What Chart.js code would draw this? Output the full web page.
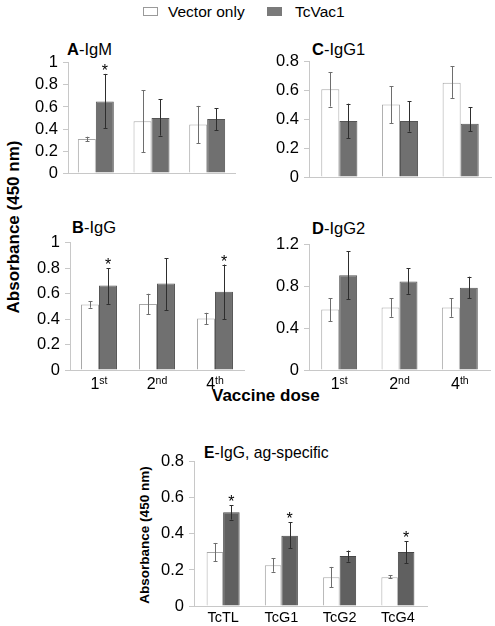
<!DOCTYPE html>
<html>
<head>
<meta charset="utf-8">
<script src="https://cdn.jsdelivr.net/npm/chart.js@4.4.0/dist/chart.umd.min.js"></script>
<style>
  body { margin: 0; background: #fff; overflow: hidden; }
  #page { position: relative; width: 495px; height: 626px; font-family: "Liberation Sans", Arial, sans-serif; color: #000; }
  #page canvas { position: absolute; }
  .txt { position: absolute; line-height: 1; white-space: nowrap; }
  .rot { position: absolute; line-height: 1; white-space: nowrap; font-weight: bold; transform: translate(-50%, -50%) rotate(-90deg); }
  .box { position: absolute; box-sizing: border-box; }
</style>
</head>
<body>
<div id="page">
  <div class="box" style="left:143px;top:7px;width:15px;height:9px;border:1px solid #9a9a9a;background:#fff"></div>
  <div class="txt" id="legVec" style="left:168px;font-size:15.5px">Vector only</div>
  <div class="box" style="left:267px;top:7px;width:15px;height:9px;background:#7a7a7a"></div>
  <div class="txt" id="legVac" style="left:295px;font-size:15.5px">TcVac1</div>

  <div class="txt" id="tA" style="left:67px;font-size:16.5px"><b>A</b>-IgM</div>
  <div class="txt" id="tB" style="left:72px;font-size:16.5px"><b>B</b>-IgG</div>
  <div class="txt" id="tC" style="left:312px;font-size:16.5px"><b>C</b>-IgG1</div>
  <div class="txt" id="tD" style="left:312px;font-size:16.5px"><b>D</b>-IgG2</div>
  <div class="txt" id="tE" style="left:204px;font-size:15.7px"><b>E</b>-IgG, ag-specific</div>

  <div class="txt" id="xTitle" style="left:212px;font-size:17px;font-weight:bold">Vaccine dose</div>
  <div class="rot" style="left:13px;top:227px;font-size:17px">Absorbance (450 nm)</div>
  <div class="rot" style="left:145px;top:535px;font-size:13.5px">Absorbance (450 nm)</div>

  <canvas id="chartA"></canvas>
  <canvas id="chartB"></canvas>
  <canvas id="chartC"></canvas>
  <canvas id="chartD"></canvas>
  <canvas id="chartE"></canvas>
</div>
<script>
// categories
const doses = ['1st', '2nd', '4th'];
const antigens = ['TcTL', 'TcG1', 'TcG2', 'TcG4'];

// A - IgM
const igmVector = [0.31, 0.47, 0.44];
const igmVectorErr = [[0.29, 0.33], [0.19, 0.75], [0.27, 0.61]];
const igmVac = [0.65, 0.50, 0.49];
const igmVacErr = [[0.41, 0.90], [0.34, 0.67], [0.39, 0.59]];
const igmSig = [true, false, false];
const igmTicks = [0, 0.2, 0.4, 0.6, 0.8, 1];

// B - IgG
const iggVector = [0.515, 0.52, 0.405];
const iggVectorErr = [[0.49, 0.54], [0.44, 0.60], [0.36, 0.45]];
const iggVac = [0.665, 0.68, 0.615];
const iggVacErr = [[0.52, 0.80], [0.47, 0.88], [0.40, 0.83]];
const iggSig = [true, false, true];
const iggTicks = [0, 0.2, 0.4, 0.6, 0.8, 1];

// C - IgG1
const igg1Vector = [0.61, 0.505, 0.655];
const igg1VectorErr = [[0.49, 0.73], [0.375, 0.63], [0.55, 0.77]];
const igg1Vac = [0.39, 0.39, 0.37];
const igg1VacErr = [[0.27, 0.51], [0.316, 0.526], [0.32, 0.485]];
const igg1Sig = [false, false, false];
const igg1Ticks = [0, 0.2, 0.4, 0.6, 0.8];

// D - IgG2
const igg2Vector = [0.58, 0.60, 0.60];
const igg2VectorErr = [[0.47, 0.69], [0.51, 0.69], [0.51, 0.69]];
const igg2Vac = [0.91, 0.85, 0.79];
const igg2VacErr = [[0.68, 1.14], [0.73, 0.976], [0.69, 0.895]];
const igg2Sig = [false, false, false];
const igg2Ticks = [0, 0.4, 0.8, 1.2];

// E - IgG, antigen specific
const agVector = [0.30, 0.226, 0.16, 0.16];
const agVectorErr = [[0.25, 0.35], [0.19, 0.265], [0.104, 0.217], [0.155, 0.17]];
const agVac = [0.52, 0.39, 0.277, 0.30];
const agVacErr = [[0.48, 0.56], [0.32, 0.465], [0.246, 0.308], [0.237, 0.36]];
const agSig = [true, true, false, true];
const agTicks = [0, 0.2, 0.4, 0.6, 0.8];

const FONT = '"Liberation Sans", Arial, sans-serif';
Chart.defaults.font.family = FONT;
Chart.defaults.color = '#000';

// place html text by its baseline
function atBaseline(id, baseline) {
  const el = document.getElementById(id);
  const fs = parseFloat(el.style.fontSize);
  el.style.top = (baseline - 0.8465 * fs) + 'px';
}
atBaseline('legVec', 17); atBaseline('legVac', 17);
atBaseline('tA', 55); atBaseline('tB', 233);
atBaseline('tC', 55); atBaseline('tD', 234);
atBaseline('tE', 458);
atBaseline('xTitle', 401);

// error bars + significance stars
const errorBars = {
  id: 'errorBars',
  afterDatasetsDraw(chart) {
    const ctx = chart.ctx, y = chart.scales.y;
    chart.data.datasets.forEach((ds, d) => {
      chart.getDatasetMeta(d).data.forEach((bar, i) => {
        const top = y.getPixelForValue(ds.err[i][1]);
        const bot = y.getPixelForValue(ds.err[i][0]);
        const x = Math.round(bar.x) + 0.5;
        ctx.save();
        ctx.strokeStyle = ds.errColor;
        ctx.lineWidth = 1;
        ctx.beginPath();
        ctx.moveTo(x, top); ctx.lineTo(x, bot);
        ctx.moveTo(x - 2, Math.round(top) + 0.5); ctx.lineTo(x + 2, Math.round(top) + 0.5);
        ctx.moveTo(x - 2, Math.round(bot) + 0.5); ctx.lineTo(x + 2, Math.round(bot) + 0.5);
        ctx.stroke();
        if (ds.sig && ds.sig[i]) {
          ctx.fillStyle = '#000';
          ctx.font = '16px ' + FONT;
          ctx.textAlign = 'center';
          ctx.textBaseline = 'alphabetic';
          ctx.fillText('*', bar.x, top + 2);
        }
        ctx.restore();
      });
    });
  }
};

// category labels, with superscript ordinals
const xLabels = {
  id: 'xLabels',
  afterDraw(chart, args, opts) {
    if (!opts.show) return;
    const ctx = chart.ctx, x = chart.scales.x;
    const base = chart.chartArea.bottom + opts.offset;
    ctx.save();
    ctx.fillStyle = '#000';
    ctx.textBaseline = 'alphabetic';
    chart.data.labels.forEach((lab, i) => {
      const px = x.getPixelForTick(i);
      const m = /^(\d+)(\D+)$/.exec(lab);
      if (m) {
        ctx.font = opts.size + 'px ' + FONT;
        const w1 = ctx.measureText(m[1]).width;
        ctx.font = opts.supSize + 'px ' + FONT;
        const w2 = ctx.measureText(m[2]).width;
        const start = px - (w1 + w2) / 2;
        ctx.textAlign = 'left';
        ctx.font = opts.size + 'px ' + FONT;
        ctx.fillText(m[1], start, base);
        ctx.font = opts.supSize + 'px ' + FONT;
        ctx.fillText(m[2], start + w1, base - opts.raise);
      } else {
        ctx.textAlign = 'center';
        ctx.font = opts.size + 'px ' + FONT;
        ctx.fillText(lab, px, base);
      }
    });
    ctx.restore();
  }
};

const YW = 40, PT = 12;

function panel(id, box, labels, vec, vecErr, vac, vacErr, sig, ticks, catPct, vacFill, vacBorder, xOpts) {
  const cv = document.getElementById(id);
  const xb = xOpts.show ? xOpts.height : 6;
  cv.width = YW + (box.r - box.l) + 3;
  cv.height = PT + (box.b - box.t) + xb;
  cv.style.left = (box.l - YW) + 'px';
  cv.style.top = (box.t - PT) + 'px';
  return new Chart(cv.getContext('2d'), {
    type: 'bar',
    data: {
      labels: labels,
      datasets: [
        {
          label: 'Vector only',
          data: vec,
          err: vecErr,
          errColor: '#6e6e6e',
          backgroundColor: '#ffffff',
          borderColor: '#a8a8a8',
          borderWidth: 1,
          categoryPercentage: catPct,
          barPercentage: 1
        },
        {
          label: 'TcVac1',
          data: vac,
          err: vacErr,
          errColor: '#2e2e2e',
          sig: sig,
          backgroundColor: vacFill,
          borderColor: vacBorder,
          borderWidth: 1,
          categoryPercentage: catPct,
          barPercentage: 1
        }
      ]
    },
    options: {
      responsive: false,
      animation: false,
      layout: { padding: { top: PT, right: 3, left: 0, bottom: 0 } },
      plugins: {
        legend: { display: false },
        tooltip: { enabled: false },
        xLabels: xOpts
      },
      scales: {
        x: {
          offset: true,
          grid: { display: false },
          border: { display: true, color: '#c8c8c8' },
          ticks: { display: false },
          afterFit: s => { s.height = xb; }
        },
        y: {
          min: 0,
          max: ticks[ticks.length - 1],
          afterBuildTicks: s => { s.ticks = ticks.map(v => ({ value: v })); },
          ticks: {
            font: { size: 16.5 },
            color: '#000',
            padding: 5,
            callback: v => String(v)
          },
          grid: { display: true, drawOnChartArea: false, drawTicks: true, tickLength: 5, color: '#c8c8c8' },
          border: { display: true, color: '#c8c8c8' },
          afterFit: s => { s.width = YW; }
        }
      }
    },
    plugins: [errorBars, xLabels]
  });
}

const noLabels = { show: false };
const doseLabels = { show: true, height: 28, offset: 19, size: 16, supSize: 10.5, raise: 5.5 };
const agLabels = { show: true, height: 24, offset: 16, size: 14.5, supSize: 10, raise: 5 };

panel('chartA', { l: 68, r: 235, t: 60, b: 182 }, doses, igmVector, igmVectorErr, igmVac, igmVacErr, igmSig, igmTicks, 0.646, '#707070', '#555555', noLabels);
panel('chartB', { l: 70, r: 244, t: 240, b: 370 }, doses, iggVector, iggVectorErr, iggVac, iggVacErr, iggSig, iggTicks, 0.62, '#707070', '#555555', doseLabels);
panel('chartC', { l: 309, r: 491, t: 59, b: 186 }, doses, igg1Vector, igg1VectorErr, igg1Vac, igg1VacErr, igg1Sig, igg1Ticks, 0.595, '#707070', '#555555', noLabels);
panel('chartD', { l: 309, r: 490, t: 242, b: 370 }, doses, igg2Vector, igg2VectorErr, igg2Vac, igg2VacErr, igg2Sig, igg2Ticks, 0.595, '#707070', '#555555', doseLabels);
panel('chartE', { l: 194, r: 427, t: 459, b: 606 }, antigens, agVector, agVectorErr, agVac, agVacErr, agSig, agTicks, 0.567, '#606060', '#474747', agLabels);
</script>
</body>
</html>
